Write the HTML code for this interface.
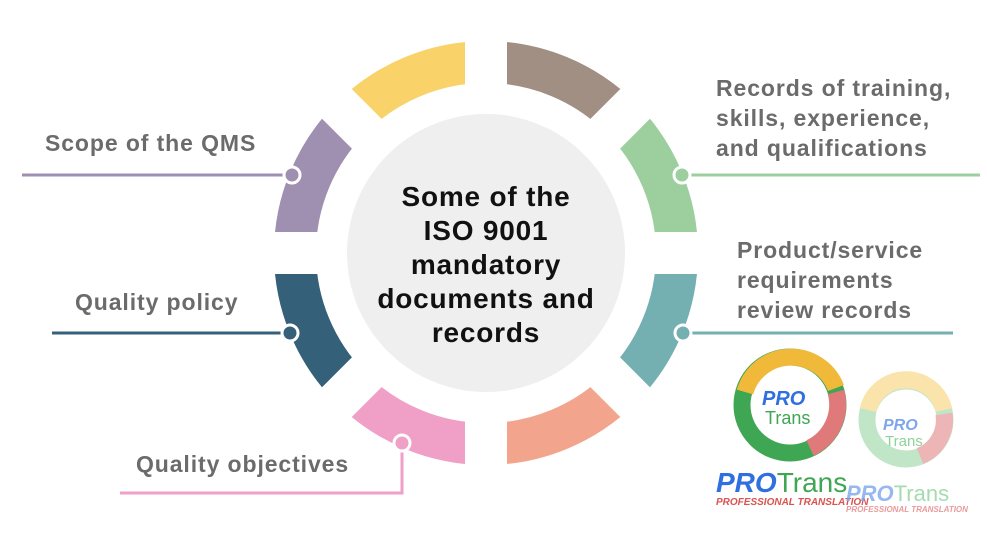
<!DOCTYPE html>
<html><head><meta charset="utf-8"><style>
body{margin:0;width:987px;height:533px;background:#fff;overflow:hidden;font-family:"Liberation Sans",sans-serif}
.l{position:absolute;color:#6b6b6b;font-size:23px;letter-spacing:0.9px;font-weight:bold;line-height:30px;white-space:nowrap}
</style></head><body>
<svg width="987" height="533" style="position:absolute;left:0;top:0">
<g transform="translate(486,253)" fill="none" stroke-width="42">
<path d="M0,-191 A191,191 0 0 1 135,-135" stroke="#A28F84"/>
<path d="M135,-135 A191,191 0 0 1 191,0" stroke="#9DCF9E"/>
<path d="M191,0 A191,191 0 0 1 135,135" stroke="#74AFB2"/>
<path d="M135,135 A191,191 0 0 1 0,191" stroke="#F2A58C"/>
<path d="M0,191 A191,191 0 0 1 -135,135" stroke="#F09FC6"/>
<path d="M-135,135 A191,191 0 0 1 -191,0" stroke="#35607A"/>
<path d="M-191,0 A191,191 0 0 1 -135,-135" stroke="#9F8FB0"/>
<path d="M-135,-135 A191,191 0 0 1 0,-191" stroke="#F9D36A"/>
<g stroke="#fff" stroke-width="42">
<line x1="-230" y1="0" x2="230" y2="0"/><line x1="0" y1="-230" x2="0" y2="230"/>
<line x1="-163" y1="-163" x2="163" y2="163"/><line x1="-163" y1="163" x2="163" y2="-163"/>
</g>
<circle r="139" fill="#efefef" stroke="none"/>
</g>
<g stroke-width="3">
<line x1="22" y1="175" x2="292" y2="175" stroke="#9F8FB0"/>
<line x1="52" y1="333" x2="290" y2="333" stroke="#35607A"/>
<line x1="682" y1="175" x2="980" y2="175" stroke="#9DCF9E"/>
<line x1="683" y1="333" x2="953" y2="333" stroke="#74AFB2"/>
<polyline points="402,443 402,493 120,493" fill="none" stroke="#F09FC6"/>
</g>
<g stroke="#fff" stroke-width="3">
<circle cx="292" cy="175" r="8" fill="#9F8FB0"/>
<circle cx="290" cy="333" r="8" fill="#35607A"/>
<circle cx="682" cy="175" r="8" fill="#9DCF9E"/>
<circle cx="683" cy="333" r="8" fill="#74AFB2"/>
<circle cx="402" cy="443" r="8" fill="#F09FC6"/>
</g>
<g fill="none" stroke-width="17">
<circle cx="790" cy="405" r="48" stroke="#3fa653"/>
<path d="M745,392 A48,48 0 0 1 836,388" stroke="#f0b93a"/>
<path d="M836,392 A48,48 0 0 1 810,448" stroke="#e07a7a"/>
<g opacity="0.55">
<circle cx="906" cy="420" r="39" stroke="#8fd39a"/>
<path d="M868,410 A39,39 0 0 1 944,410" stroke="#f6cf6a"/>
<path d="M944,414 A39,39 0 0 1 920,456" stroke="#e07a7a"/>
</g>
</g>
<g font-family="Liberation Sans,sans-serif" font-weight="bold" font-style="italic">
<text x="762" y="405" font-size="20" fill="#2f6fe0">PRO</text>
<text x="765" y="424" font-size="18" fill="#3fa653" font-style="normal" font-weight="normal">Trans</text>
<text x="883" y="430" font-size="16" fill="#7ea6ec">PRO</text>
<text x="885" y="446" font-size="15" fill="#8fd39a" font-style="normal" font-weight="normal">Trans</text>
<text x="716" y="492" font-size="28" fill="#2f6fe0">PRO<tspan fill="#3fa653" font-style="normal" font-weight="normal">Trans</tspan></text>
<text x="716" y="505" font-size="10" fill="#d9534f">PROFESSIONAL TRANSLATION</text>
<text x="846" y="501" font-size="22" fill="#7ea6ec" opacity=".8">PRO<tspan fill="#8fd39a" font-style="normal" font-weight="normal">Trans</tspan></text>
<text x="846" y="512" font-size="8" fill="#e89b9b">PROFESSIONAL TRANSLATION</text>
</g>
</svg>
<div style="position:absolute;left:336px;top:180px;width:300px;text-align:center;font-weight:bold;font-size:28px;letter-spacing:0.8px;line-height:34px;color:#111">Some of the<br>ISO 9001<br>mandatory<br>documents and<br>records</div>
<div class="l" style="left:45px;top:128px">Scope of the QMS</div>
<div class="l" style="left:75px;top:287px">Quality policy</div>
<div class="l" style="left:136px;top:449px">Quality objectives</div>
<div class="l" style="left:716px;top:73px">Records of training,<br>skills, experience,<br>and qualifications</div>
<div class="l" style="left:737px;top:235px">Product/service<br>requirements<br>review records</div>
</body></html>
